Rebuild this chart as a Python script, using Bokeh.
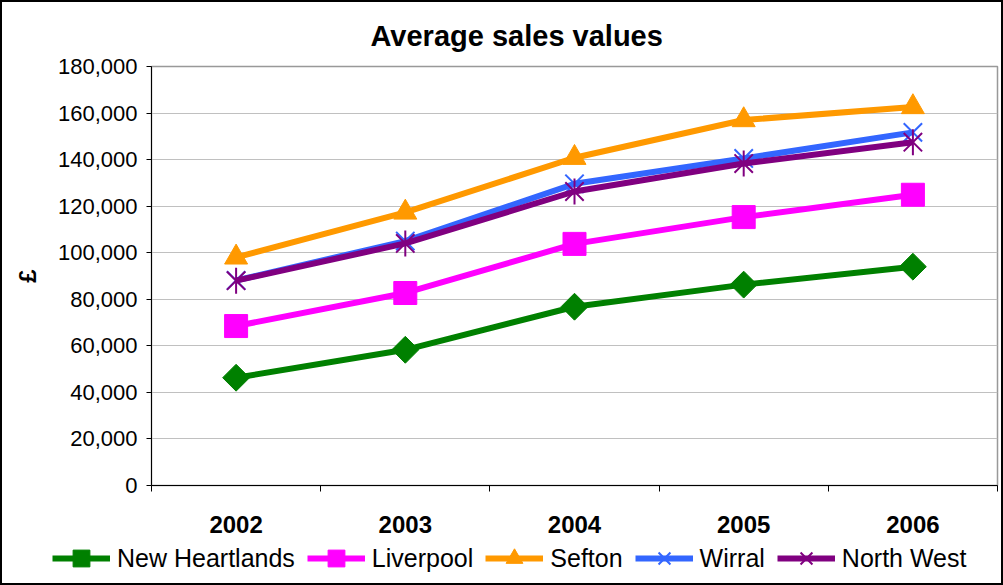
import math
from bokeh.plotting import figure
from bokeh.layouts import column
from bokeh.models import Range1d, FixedTicker, NumeralTickFormatter, Legend, LegendItem
from bokeh.embed import file_html
from bokeh.resources import INLINE

years = ["2002", "2003", "2004", "2005", "2006"]
new_heartlands = [46300, 58300, 76800, 86300, 94000]
liverpool = [68500, 82700, 103800, 115300, 124900]
sefton = [98000, 117300, 140800, 157000, 162600]
wirral = [88100, 105000, 129600, 140500, 151700]
north_west = [88000, 104000, 126300, 138300, 147500]
y_ticks = list(range(0, 180001, 20000))

FONT = "Liberation Sans"

p = figure(width=999, height=534, x_range=Range1d(0, len(years)), y_range=Range1d(0, 180000),
           output_backend="svg", toolbar_location=None,
           min_border_left=149, min_border_right=4, min_border_top=60, min_border_bottom=51)
p.background_fill_color = "white"
p.border_fill_color = "white"
p.outline_line_color = "#999999"
p.outline_line_width = 1.5

p.title.text = "Average sales values"
p.title.text_font = FONT
p.title.text_font_size = "29px"
p.title.text_font_style = "bold"
p.title.text_color = "black"
p.title.align = "left"
p.title.offset = 219
p.title.standoff = 30

xs = [i + 0.5 for i in range(len(years))]

xa = p.xaxis[0]
xa.ticker = FixedTicker(ticks=xs, minor_ticks=list(range(len(years) + 1)))
xa.major_label_overrides = {x: y for x, y in zip(xs, years)}
xa.major_tick_out = 0
xa.major_tick_in = 0
xa.minor_tick_out = 6
xa.minor_tick_in = 0
xa.minor_tick_line_color = "black"
xa.axis_line_color = "black"
xa.major_label_text_font = FONT
xa.major_label_text_font_size = "24px"
xa.major_label_text_font_style = "bold"
xa.major_label_text_color = "black"
xa.major_label_standoff = 24

ya = p.yaxis[0]
ya.ticker = FixedTicker(ticks=y_ticks, minor_ticks=[])
ya.formatter = NumeralTickFormatter(format="0,0")
ya.major_tick_out = 5
ya.major_tick_in = 0
ya.major_tick_line_color = "black"
ya.axis_line_color = "black"
ya.major_label_text_font = FONT
ya.major_label_text_font_size = "22px"
ya.major_label_text_color = "black"
ya.major_label_standoff = 9
ya.axis_label = "£"
ya.axis_label_text_font = FONT
ya.axis_label_text_font_size = "24px"
ya.axis_label_text_font_style = "bold"
ya.axis_label_text_color = "black"
ya.axis_label_standoff = 14

p.xgrid.visible = False
p.ygrid.grid_line_color = "#c0c0c0"
p.ygrid.grid_line_width = 1

# legend strip: same series drawn out of view, only the legend shows
lf = figure(width=999, height=47, x_range=Range1d(100, 101), y_range=Range1d(-10, -9),
            output_backend="svg", toolbar_location=None, x_axis_type=None, y_axis_type=None,
            min_border=0, min_border_left=0, min_border_right=0, min_border_top=0, min_border_bottom=0)
lf.outline_line_color = None
lf.background_fill_color = "white"
lf.border_fill_color = "white"
lf.grid.visible = False

for f in (p, lf):
    try:
        f.frame_align = False
    except Exception:
        pass

series = [
    ("New Heartlands", new_heartlands, "#008000", [dict(marker="square", angle=math.pi / 4, size=19, fill=True, lw=1)]),
    ("Liverpool", liverpool, "#FF00FF", [dict(marker="square", angle=0, size=23, fill=True, lw=1)]),
    ("Sefton", sefton, "#FF9900", [dict(marker="triangle", angle=0, size=23, fill=True, lw=1)]),
    ("Wirral", wirral, "#3366FF", [dict(marker="x", angle=0, size=26, fill=False, lw=2)]),
    ("North West", north_west, "#800080", [dict(marker="x", angle=0, size=26, fill=False, lw=2),
                                           dict(marker="dash", angle=math.pi / 2, size=26, fill=False, lw=2)]),
]

items = []
for name, vals, color, markers in series:
    rs = []
    for fig in (p, lf):
        r_line = fig.line(xs, vals, line_color=color, line_width=6)
        rr = [r_line]
        for m in markers:
            rr.append(fig.scatter(xs, vals, marker=m["marker"], angle=m["angle"], size=m["size"],
                                  fill_color=color if m["fill"] else None, line_color=color,
                                  line_width=m["lw"]))
        rs.append(rr)
    items.append(LegendItem(label=name, renderers=rs[1]))

legend = Legend(items=items, orientation="horizontal", location=(50, 4))
legend.glyph_width = 58
legend.glyph_height = 42
legend.label_standoff = 7
legend.spacing = 12
legend.padding = 0
legend.margin = 0
legend.border_line_color = None
legend.background_fill_alpha = 0
legend.label_text_font = FONT
legend.label_text_font_size = "25px"
legend.label_text_color = "black"
lf.add_layout(legend)

layout = column(p, lf, spacing=0, styles={"border": "2px solid #000000", "background-color": "white"})

open("out.html", "w").write(file_html(layout, INLINE))
